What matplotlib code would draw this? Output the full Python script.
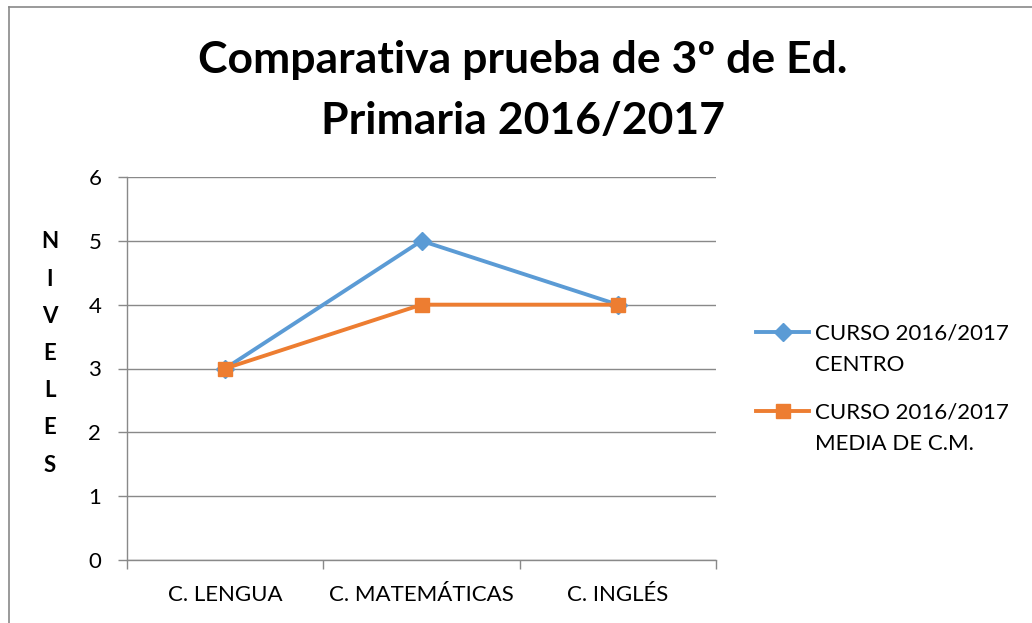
import matplotlib
matplotlib.use("Agg")
import matplotlib.pyplot as plt
from matplotlib.lines import Line2D

categories = ["C. LENGUA", "C. MATEMÁTICAS", "C. INGLÉS"]
centro = [3, 5, 4]
media_cm = [3, 4, 4]
series_labels = ["CURSO 2016/2017\nCENTRO", "CURSO 2016/2017\nMEDIA DE C.M."]
title_lines = ["Comparativa prueba de 3º de Ed.", "Primaria 2016/2017"]
ylabel = "NIVELES"
yticks = [0, 1, 2, 3, 4, 5, 6]

plt.rcParams['font.family'] = ['Lato', 'DejaVu Sans']

W, H = 1032, 623
fig = plt.figure(figsize=(W / 100, H / 100), dpi=100)
fig.patch.set_facecolor('white')

GRAY = '#898989'
BLUE = '#5B9BD5'
ORANGE = '#ED7D31'
FS = 16

ax = fig.add_axes([127 / W, 1 - 560 / H, (716 - 127) / W, (560 - 177) / H])
xs = list(range(len(categories)))
styles = [dict(color=BLUE, marker='D', ms=9.5), dict(color=ORANGE, marker='s', ms=10)]
for vals, lab, st, z in zip([centro, media_cm], series_labels, styles, [3, 4]):
    ax.plot(xs, vals, lw=2.8, label=lab, zorder=z, **st)

ax.set_xlim(-0.5, len(categories) - 0.5)
ax.set_ylim(min(yticks), max(yticks))
ax.set_yticks(yticks)
ax.set_yticklabels([str(v) for v in yticks])
ax.set_xticks([i - 0.5 for i in range(len(categories) + 1)])
ax.set_xticklabels([])
ax.set_xticks(xs, minor=True)
ax.set_xticklabels(categories, minor=True)
ax.tick_params(axis='x', which='major', length=6.5, width=1, color=GRAY, direction='out')
ax.tick_params(axis='x', which='minor', length=0, pad=18, labelsize=FS)
ax.tick_params(axis='y', which='major', length=6.5, width=1, color=GRAY, direction='out',
               pad=12, labelsize=FS)

ax.grid(axis='y', color=GRAY, lw=1)
ax.set_axisbelow(True)
for s in ['top', 'right']:
    ax.spines[s].set_visible(False)
for s in ['left', 'bottom']:
    ax.spines[s].set_color(GRAY)
    ax.spines[s].set_linewidth(1)

# Title
for i, line in enumerate(title_lines):
    fig.text(523 / W, 1 - (73 + 61 * i) / H, line, ha='center', va='baseline',
             fontsize=32, fontweight='bold')

# Vertical stacked y label
for i, ch in enumerate(ylabel):
    fig.text(50 / W, 1 - (242 + 37.2 * i) / H, ch, ha='center', va='center',
             fontsize=FS, fontweight='bold')

# Legend (handle aligned with first text line, as in the reference)
line_objs = ax.get_lines()
for k, (ln, lab) in enumerate(zip(line_objs, series_labels)):
    y0 = 332 + 79 * k
    handle = Line2D([756 / W, 782.5 / W, 809 / W], [1 - y0 / H] * 3, transform=fig.transFigure,
                    color=ln.get_color(), lw=ln.get_linewidth(), marker=ln.get_marker(),
                    ms=ln.get_markersize(), markevery=[1])
    fig.add_artist(handle)
    for j, txt in enumerate(lab.split("\n")):
        fig.text(815 / W, 1 - (y0 + 7.5 + 31.5 * j) / H, txt, ha='left', va='baseline',
                 fontsize=FS)

# Chart border
fig.add_artist(Line2D([8.5 / W, 8.5 / W], [0, 1 - 6.5 / H], transform=fig.transFigure,
                      color=GRAY, lw=1.2))
fig.add_artist(Line2D([8.5 / W, 1], [1 - 6.5 / H, 1 - 6.5 / H], transform=fig.transFigure,
                      color=GRAY, lw=1.2))

fig.savefig('out.png', dpi=100)
